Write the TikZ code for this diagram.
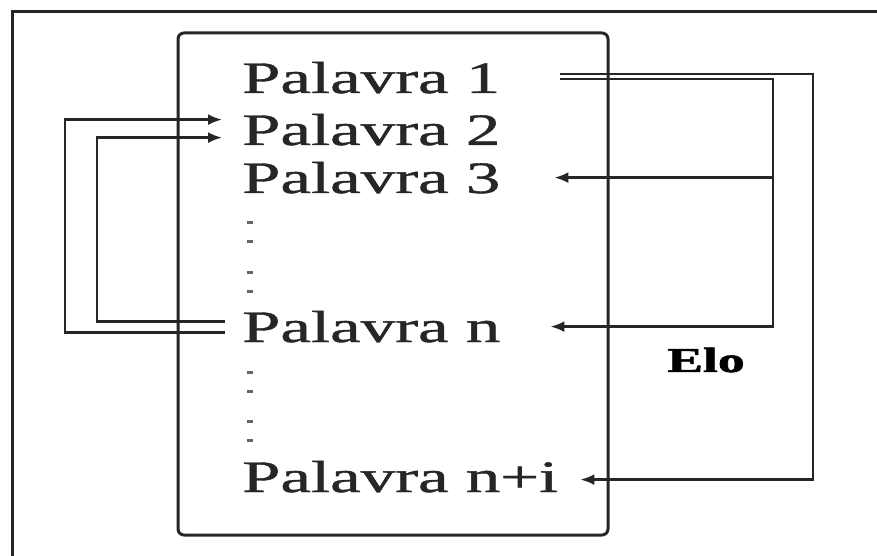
\documentclass[tikz,border=0pt]{standalone}
\usepackage{fontspec}
\usepackage{graphicx}
\setmainfont{Liberation Serif}
\newfontfamily\heavyserif[FakeBold=0.8]{Liberation Serif}
\newfontfamily\tagserif[FakeBold=1.5]{Liberation Serif Bold}
\usetikzlibrary{arrows.meta,calc}
% wide lettering used throughout
\newcommand{\widetext}[1]{\scalebox{1.53}[1]{#1}}
\begin{document}
\begin{tikzpicture}[x=1pt,y=-1pt,
  frameline/.style={line width=3pt,draw=black!85},
  word/.style={inner sep=0pt,anchor=base west,text=black!85,
    font=\fontsize{45}{45}\heavyserif},
  tag/.style={inner sep=0pt,text=black,font=\fontsize{35}{35}\tagserif},
  link/.style={line width=2.3pt,draw=black!85},
  linkarrow/.style={link,-{Latex[length=14pt,width=11pt]}},
  dotmark/.style={fill=black!60,draw=none}]
\useasboundingbox (0,0) rectangle (877,556);
\begin{scope}
\clip (0,0) rectangle (877,556);
% outer frame
\draw[frameline] (12,570) -- (12,12) -- (890,12);
\end{scope}
% word list box
\draw[frameline,rounded corners=6pt] (178,33) rectangle (608,535);

% words
\node[word] (w1) at (242,93) {\widetext{Palavra 1}};
\node[word] (w2) at (242,145) {\widetext{Palavra 2}};
\node[word] (w3) at (242,193) {\widetext{Palavra 3}};
\node[word] (wn) at (242,342) {\widetext{Palavra n}};
\node[word] (wni) at (242,492) {\widetext{Palavra n+i}};
\node[tag] (elo) at (706,360) {\widetext{Elo}};

% ellipsis marks
\foreach \yy in {222,241,272,291,372,391,421,440}
  \fill[dotmark] (247,\yy-1.5) rectangle (253,\yy+1.5);

% connection ports
\coordinate (s1) at ([xshift=60pt,yshift=3.5pt]w1.east);
\coordinate (s2) at ([xshift=60pt,yshift=-1.5pt]w1.east);
\coordinate (t3) at ([xshift=54pt]w3.east);
\coordinate (tn) at ([xshift=50pt]wn.east);
\coordinate (tni) at ([xshift=22pt,yshift=-3pt]wni.east);
\coordinate (sn1) at ([xshift=-17pt,yshift=-6pt]wn.west);
\coordinate (sn2) at ([xshift=-17pt,yshift=5pt]wn.west);
\coordinate (t2a) at ([xshift=-20pt,yshift=10pt]w2.west);
\coordinate (t2b) at ([xshift=-20pt,yshift=-8pt]w2.west);

% routing columns
\coordinate (colA) at (813,0);
\coordinate (colB) at (773,0);
\coordinate (colL1) at (65,0);
\coordinate (colL2) at (97,0);

% links on the right
\draw[linkarrow] (s1) -| (colA |- tni) -- (tni);
\draw[linkarrow] (s2) -| (colB |- tn) -- (tn);
\draw[linkarrow] (colB |- t3) -- (t3);

% links on the left
\draw[linkarrow] (sn1) -| (colL1 |- t2a) -- (t2a);
\draw[linkarrow] (sn2) -| (colL2 |- t2b) -- (t2b);
\end{tikzpicture}
\end{document}
